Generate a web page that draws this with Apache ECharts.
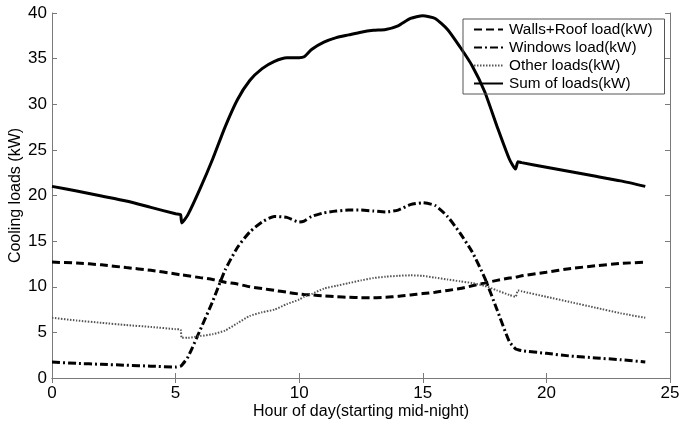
<!DOCTYPE html>
<html>
<head>
<meta charset="utf-8">
<script src="https://cdn.jsdelivr.net/npm/echarts@6/dist/echarts.min.js"></script>
<style>
  html, body { margin: 0; padding: 0; background: #fff; }
  #chart { width: 681px; height: 423px; }
</style>
</head>
<body>
<div id="chart"></div>
<script>
// hour of day (x values shared by all series)
const hours = [0, 1, 2, 3, 4, 5, 5.2, 5.25, 5.5, 6, 6.5, 7, 7.5, 8, 8.5, 9, 9.5, 10, 10.2, 10.5,
    11, 11.5, 12, 12.5, 13, 13.5, 14, 14.5, 15, 15.5, 16, 16.5, 17, 17.5, 18, 18.5, 18.75, 18.85,
    19, 20, 21, 22, 23, 24]

const wallsRoof = [12.7, 12.6, 12.4, 12.1, 11.8, 11.4, 11.3, 11.3, 11.2, 11.0, 10.8, 10.5, 10.3, 10.0, 9.8, 9.6, 9.4, 9.2, 9.15, 9.1,
    9.0, 8.9, 8.85, 8.8, 8.8, 8.85, 8.95, 9.1, 9.25, 9.4, 9.6, 9.8, 10.1, 10.4, 10.7, 10.95, 11.05, 11.1,
    11.2, 11.6, 12.0, 12.3, 12.55, 12.7]

const windows = [1.75, 1.6, 1.5, 1.4, 1.3, 1.2, 1.3, 1.4, 2.3, 5.3, 8.4, 11.8, 14.3, 16.0, 17.1, 17.7, 17.6, 17.1, 17.2, 17.7,
    18.1, 18.3, 18.4, 18.4, 18.3, 18.2, 18.4, 19.0, 19.2, 18.9, 17.7, 15.9, 13.8, 11.0, 7.5, 4.0, 3.2, 3.1,
    3.0, 2.7, 2.4, 2.2, 2.0, 1.75]

const otherLoads = [6.6, 6.3, 6.05, 5.8, 5.6, 5.35, 5.3, 4.4, 4.4, 4.6, 4.8, 5.2, 6.0, 6.8, 7.2, 7.5, 8.1, 8.6, 8.9, 9.2,
    9.8, 10.1, 10.4, 10.7, 10.95, 11.1, 11.2, 11.25, 11.2, 11.0, 10.8, 10.6, 10.4, 10.1, 9.6, 9.1, 8.9, 9.6,
    9.5, 8.9, 8.3, 7.7, 7.1, 6.6]

const sumLoads = [21.0, 20.5, 19.95, 19.4, 18.7, 18.0, 17.9, 17.0, 17.9, 20.8, 24.0, 27.5, 30.5, 32.6, 33.9, 34.7, 35.1, 35.1, 35.2, 36.0,
    36.8, 37.3, 37.6, 37.9, 38.1, 38.2, 38.6, 39.4, 39.7, 39.4, 38.2, 36.3, 34.2, 31.4, 27.6, 24.0, 22.9, 23.7,
    23.6, 23.1, 22.6, 22.1, 21.6, 21.0]

const seriesNames = ['Walls+Roof load(kW)', 'Windows load(kW)', 'Other loads(kW)', 'Sum of loads(kW)']

const chart = echarts.init(document.getElementById('chart'))

const pairs = (ys) => hours.map((h, i) => [h, ys[i]])

const axisColor = '#7a7a7a'
const labelFont = 'Liberation Sans, Arial, sans-serif'

const xBase = {
    type: 'value',
    min: 0,
    max: 25,
    interval: 5,
    axisLine: { show: true, lineStyle: { color: axisColor, width: 1 } },
    axisTick: { show: true, inside: true, length: 5, lineStyle: { color: axisColor } },
    splitLine: { show: false }
}
const yBase = {
    type: 'value',
    min: 0,
    max: 40,
    interval: 5,
    axisLine: { show: true, onZero: false, lineStyle: { color: axisColor, width: 1 } },
    axisTick: { show: true, inside: true, length: 5, lineStyle: { color: axisColor } },
    splitLine: { show: false }
}

const lineSeries = (name, ys, lineStyle) => ({
    name: name,
    type: 'line',
    data: pairs(ys),
    showSymbol: false,
    symbol: 'none',
    smooth: 0.2,
    lineStyle: lineStyle,
    itemStyle: { color: lineStyle.color }
})

const option = {
    animation: false,
    backgroundColor: '#fff',
    grid: {
        left: 52,
        right: 11,
        top: 13,
        bottom: 45,
        containLabel: false,
        outerBoundsMode: 'none'
    },
    legend: {
        data: seriesNames,
        orient: 'vertical',
        left: 463,
        top: 19,
        padding: [3, 12, 3, 10],
        itemGap: 3,
        itemWidth: 29,
        itemHeight: 15,
        borderColor: '#555',
        borderWidth: 1,
        borderRadius: 0,
        itemStyle: { color: 'transparent', borderWidth: 0, opacity: 0 },
        textStyle: { fontFamily: labelFont, fontSize: 15.3, color: '#000', padding: [0, 0, 0, 1] }
    },
    xAxis: [
        Object.assign({}, xBase, {
            position: 'bottom',
            name: 'Hour of day(starting mid-night)',
            nameLocation: 'middle',
            nameGap: 26,
            nameMoveOverlap: false,
            nameTextStyle: { fontFamily: labelFont, fontSize: 16, color: '#000' },
            axisLabel: { fontFamily: labelFont, fontSize: 17, color: '#000', margin: 7 }
        }),
        Object.assign({}, xBase, { position: 'top', axisLabel: { show: false } })
    ],
    yAxis: [
        Object.assign({}, yBase, {
            position: 'left',
            name: 'Cooling loads (kW)',
            nameLocation: 'middle',
            nameGap: 28,
            nameMoveOverlap: false,
            nameTextStyle: { fontFamily: labelFont, fontSize: 16, color: '#000' },
            axisLabel: { fontFamily: labelFont, fontSize: 17, color: '#000', margin: 5 }
        }),
        Object.assign({}, yBase, { position: 'right', axisLabel: { show: false } })
    ],
    series: [
        lineSeries(seriesNames[0], wallsRoof, { color: '#000', width: 3, type: [8, 4] }),
        lineSeries(seriesNames[1], windows, { color: '#000', width: 3, type: [8, 3, 2, 3] }),
        lineSeries(seriesNames[2], otherLoads, { color: '#555', width: 2, type: [1.5, 1.5] }),
        lineSeries(seriesNames[3], sumLoads, { color: '#000', width: 3 })
    ]
}

chart.setOption(option)
</script>
</body>
</html>
